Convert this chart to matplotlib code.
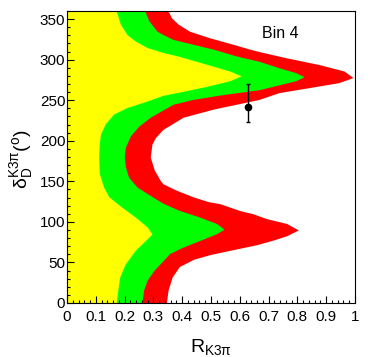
import numpy as np
import matplotlib
matplotlib.use("Agg")
import matplotlib.pyplot as plt
from matplotlib.ticker import MultipleLocator, FormatStrFormatter

plt.rcParams['font.family'] = ['Liberation Sans', 'DejaVu Sans']
plt.rcParams['mathtext.default'] = 'regular'

# contour boundaries: (delta in deg, R at the outer edge)
# yellow region (inner)
d_yel = [0, 15, 32, 48, 65, 77, 85, 94, 106, 118, 131, 143, 160, 180, 196, 208,
         221, 233, 241, 249, 256, 261, 267, 274, 280, 286, 292, 298, 304.5, 309,
         315, 323, 331, 344, 360]
r_yel = [0.171, 0.176, 0.183, 0.202, 0.237, 0.272, 0.295, 0.278, 0.237, 0.191,
         0.145, 0.127, 0.112, 0.110, 0.112, 0.116, 0.133, 0.162, 0.208, 0.278,
         0.333, 0.403, 0.484, 0.565, 0.605, 0.565, 0.507, 0.449, 0.385, 0.333,
         0.278, 0.237, 0.208, 0.185, 0.171]
# green region
d_grn = [0, 16, 28, 40, 52, 61, 69, 77, 85.5, 91, 98, 106, 114, 123, 135, 143,
         155, 168, 180, 192, 206, 218, 229, 238, 245, 251, 257, 263, 267, 274,
         279, 284, 290, 298, 304.5, 313, 319, 325, 331, 335, 348, 360]
r_grn = [0.260, 0.266, 0.278, 0.301, 0.333, 0.356, 0.403, 0.460, 0.519, 0.545,
         0.519, 0.460, 0.391, 0.333, 0.278, 0.243, 0.214, 0.2025, 0.199, 0.2025,
         0.220, 0.249, 0.289, 0.333, 0.368, 0.437, 0.542, 0.667, 0.713, 0.794,
         0.823, 0.794, 0.736, 0.667, 0.588, 0.507, 0.437, 0.368, 0.333, 0.3125,
         0.284, 0.270]
# red region (outer)
d_red = [0, 16, 32, 45, 54, 60, 66, 72, 78, 83, 90, 98, 104, 110, 114, 122.5,
         125, 131, 139, 147, 151, 164, 180, 196, 204, 214, 229, 239, 251, 259.4,
         265.5, 271.7, 278, 286, 294, 302.5, 310, 313, 319, 327, 335, 344, 352, 360]
r_red = [0.345, 0.351, 0.365, 0.390, 0.440, 0.500, 0.580, 0.660, 0.720, 0.763,
         0.803, 0.763, 0.693, 0.646, 0.600, 0.530, 0.490, 0.437, 0.380, 0.333,
         0.324, 0.303, 0.289, 0.295, 0.307, 0.333, 0.403, 0.507, 0.667, 0.736,
         0.840, 0.944, 0.993, 0.962, 0.875, 0.759, 0.667, 0.634, 0.576, 0.495,
         0.426, 0.385, 0.362, 0.351]

# measured point
r_meas = 0.628
d_meas = 241.7
d_err_lo = 18.7
d_err_hi = 27.9

fig = plt.figure(figsize=(3.74, 3.57), dpi=100)
ax = fig.add_axes([67/374, 54/357, 288/374, 292/357])

ax.fill_betweenx(d_red, 0, r_red, color='#ff0000', lw=0)
ax.fill_betweenx(d_grn, 0, r_grn, color='#00ff00', lw=0)
ax.fill_betweenx(d_yel, 0, r_yel, color='#ffff00', lw=0)

ax.errorbar([r_meas], [d_meas], yerr=[[d_err_lo], [d_err_hi]], fmt='o',
            color='black', ms=4.5, elinewidth=1, capsize=1.6, capthick=1)

ax.text(0.74, 327, 'Bin 4', fontsize=11.5, ha='center', va='baseline')

ax.set_xlim(0, 1)
ax.set_ylim(0, 360)
ax.xaxis.set_major_locator(MultipleLocator(0.1))
ax.xaxis.set_minor_locator(MultipleLocator(0.02))
ax.yaxis.set_major_locator(MultipleLocator(50))
ax.yaxis.set_minor_locator(MultipleLocator(10))
ax.xaxis.set_major_formatter(FormatStrFormatter('%g'))
ax.tick_params(which='both', direction='in', top=False, right=False,
               labelsize=11, width=0.8)
ax.tick_params(which='major', length=5)
ax.tick_params(which='minor', length=2.5)
ax.tick_params(axis='x', pad=5)
ax.tick_params(axis='y', pad=1.2)
for s in ax.spines.values():
    s.set_linewidth(0.8)

fig.text(211/374, 1 - 352/357, r'$R_{K3\pi}$', fontsize=14,
         ha='center', va='baseline')
fig.text(27/374, 1 - 159/357, r'$\delta_{D}^{K3\pi}(^{o})$', fontsize=14,
         rotation=90, ha='center', va='baseline', rotation_mode='anchor')

fig.savefig('out.png', dpi=100)
